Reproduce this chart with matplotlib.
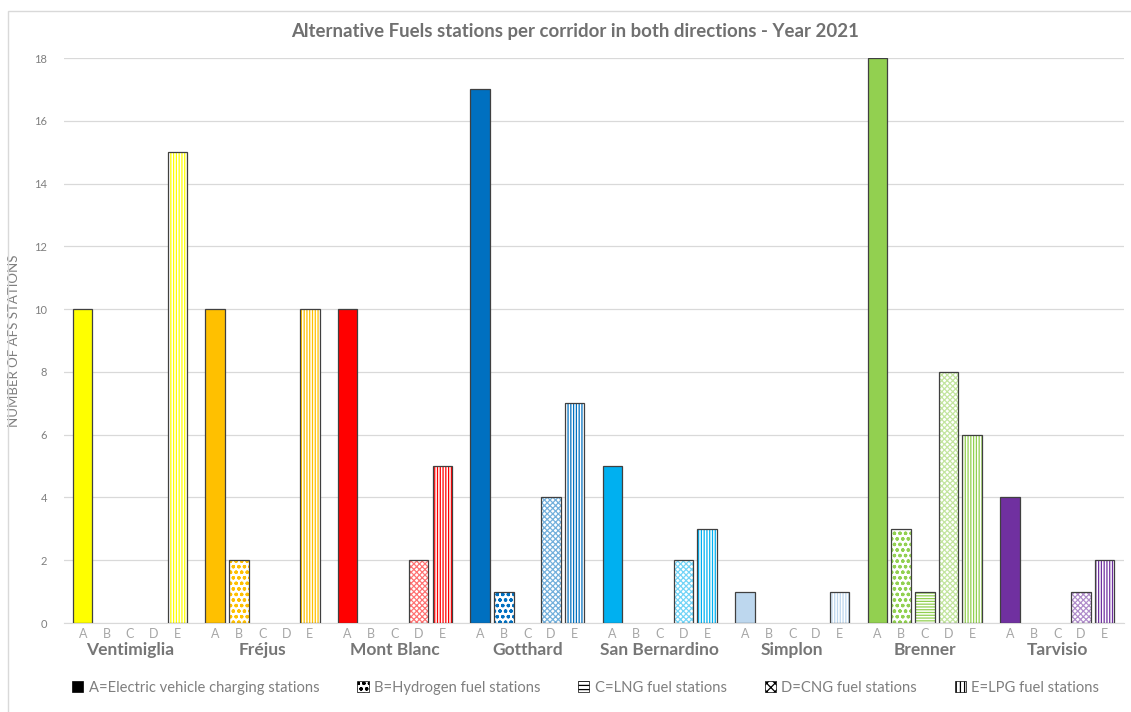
import numpy as np
import matplotlib.pyplot as plt
from matplotlib.colors import to_rgb
from matplotlib.patches import Patch, Rectangle

plt.rcParams['font.family'] = ['Lato', 'DejaVu Sans']
plt.rcParams['hatch.linewidth'] = 0.9

# data
corridors = ['Ventimiglia', 'Fréjus', 'Mont Blanc', 'Gotthard',
             'San Bernardino', 'Simplon', 'Brenner', 'Tarvisio']
letters = ['A', 'B', 'C', 'D', 'E']
ev = [10, 10, 10, 17, 5, 1, 18, 4]
hydrogen = [0, 2, 0, 1, 0, 0, 3, 0]
lng = [0, 0, 0, 0, 0, 0, 1, 0]
cng = [0, 0, 2, 4, 2, 0, 8, 1]
lpg = [15, 10, 5, 7, 3, 1, 6, 2]
legend_labels = ['A=Electric vehicle charging stations', 'B=Hydrogen fuel stations',
                 'C=LNG fuel stations', 'D=CNG fuel stations', 'E=LPG fuel stations']

colors = ['#FFFF00', '#FFC000', '#FF0000', '#0070C0',
          '#00B0F0', '#BDD7EE', '#92D050', '#7030A0']
hatches = [None, 'ooo', '------', 'xxxxxx', '||||||']
series = [ev, hydrogen, lng, cng, lpg]

grey = '#7F7F7F'


def lighten(c, f):
    r = np.array(to_rgb(c))
    return tuple(r + (1 - r) * f)


fig = plt.figure(figsize=(11.31, 7.12), dpi=100)
ax = fig.add_axes([0.0564, 0.125, 0.937, 0.7935])

step = 0.1785
width = 0.147
x = np.arange(len(corridors))

for j, vals in enumerate(series):
    pos = x + (j - 2) * step
    for i in range(len(corridors)):
        if vals[i] == 0:
            continue
        if hatches[j] is None:
            ax.bar(pos[i], vals[i], width, color=colors[i], edgecolor='#404040',
                   linewidth=0.9, zorder=3)
        else:
            hc = lighten(colors[i], 0.45) if j == 3 else colors[i]
            ax.bar(pos[i], vals[i], width, color='white', edgecolor=hc,
                   hatch=hatches[j], linewidth=0, zorder=3)
            ax.bar(pos[i], vals[i], width, fill=False, edgecolor='#404040',
                   linewidth=0.9, zorder=4)

ax.set_xlim(-0.5, len(corridors) - 0.5)
ax.set_ylim(0, 18)
ax.set_yticks(range(0, 19, 2))
ax.yaxis.grid(True, color='#D9D9D9', linewidth=0.9)
ax.set_axisbelow(True)
for s in ['top', 'right', 'left']:
    ax.spines[s].set_visible(False)
ax.spines['bottom'].set_color('#D9D9D9')
ax.tick_params(axis='y', length=0, labelsize=8, labelcolor=grey, pad=12)
ax.tick_params(axis='x', length=0)
ax.set_xticks([])

# sub-category letters and corridor names
for i, name in enumerate(corridors):
    for j, l in enumerate(letters):
        ax.text(x[i] + (j - 2) * step, -0.17, l, ha='center', va='top',
                fontsize=9, color='#A6A6A6')
    ax.text(x[i], -0.62, name, ha='center', va='top', fontsize=12.5,
            fontweight='bold', color='#767676')

ax.set_ylabel('NUMBER OF AFS STATIONS', fontsize=9.5, color=grey, labelpad=10)
fig.text(0.508, 0.956, 'Alternative Fuels stations per corridor in both directions - Year 2021',
         ha='center', va='center', fontsize=13.4, fontweight='bold', color='#707070')

handles = []
for j in range(5):
    if hatches[j] is None:
        handles.append(Patch(facecolor='black', edgecolor='black', linewidth=0.5))
    else:
        handles.append(Patch(facecolor='white', edgecolor='black',
                             hatch=hatches[j][:4], linewidth=0.5))
fig.legend(handles, legend_labels, loc='center', bbox_to_anchor=(0.518, 0.034),
           ncol=5, frameon=False, fontsize=10.6, handlelength=0.75, handleheight=0.75,
           handletextpad=0.35, columnspacing=2.6, labelcolor=grey)

fig.patches.append(Rectangle((0.007, -0.1), 1.1, 1.0845, transform=fig.transFigure,
                             fill=False, edgecolor='#D9D9D9', linewidth=1))

fig.savefig('out.png', dpi=100)
